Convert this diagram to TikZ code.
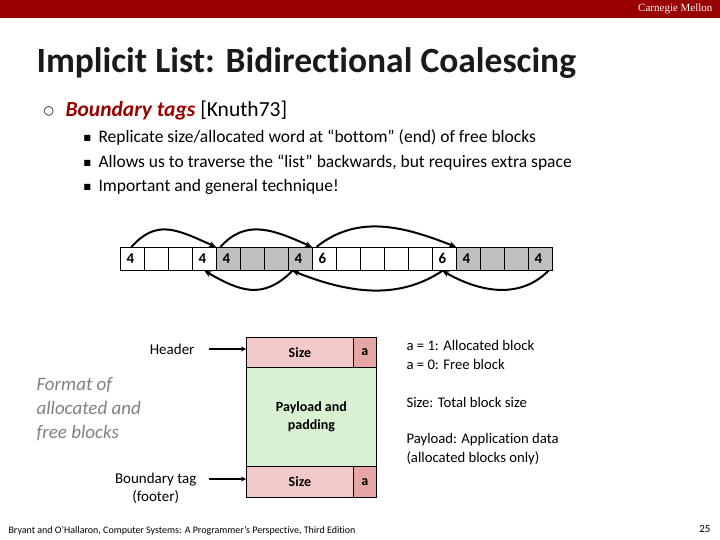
\documentclass[tikz,border=0pt]{standalone}
\usepackage{fontspec}
\setmainfont[Ligatures={NoCommon,NoRequired,NoContextual}]{Carlito}
\newfontfamily\djv{DejaVu Sans}
\newfontfamily\timesf{Liberation Serif}
\usetikzlibrary{arrows.meta}
\definecolor{cmured}{HTML}{990000}
\definecolor{pinkc}{HTML}{F2C8C8}
\definecolor{pinkd}{HTML}{E6A6A6}
\definecolor{greenc}{HTML}{D9F0D2}
\definecolor{titlec}{HTML}{1A1A1A}
\definecolor{grayc}{HTML}{C0C0C0}
\tikzset{
 cell/.style={draw=black,line width=0.8pt,minimum width=24pt,minimum height=23pt,inner sep=0pt,anchor=north west},
 arc/.style={line width=2pt,-{Stealth[length=7pt,width=6pt]}},
 lab/.style={font=\fontsize{15}{18}\selectfont,align=center},
 side/.style={font=\fontsize{14.7}{19}\selectfont,align=left,anchor=west},
 ptr/.style={line width=1.2pt,-{Stealth[length=5pt,width=5pt]}},
 fbox/.style={draw=black,line width=0.8pt,inner sep=0pt,anchor=north west}
}
\begin{document}
\begin{tikzpicture}[x=1pt,y=-1pt]
\useasboundingbox (0,0) rectangle (720,540);
\fill[cmured] (0,0) rectangle (720,18);
\node[text=white,anchor=east,font=\timesf\fontsize{11}{11}\selectfont] (cm) at (716,9) {Carnegie Mellon};
\node[anchor=west,font=\bfseries\fontsize{35.5}{35.5}\selectfont,text=titlec] (title) at (33,63) {Implicit List: Bidirectional Coalescing};
\node[anchor=west,font=\djv\fontsize{12}{12}\selectfont] (b0) at (40,111) {○};
\node[anchor=west,font=\fontsize{21.5}{21.5}\selectfont] (t0) at (62,111) {\textcolor{cmured}{\textbf{\textit{Boundary tags}}} [Knuth73]};
\foreach \yy/\tx [count=\i] in {138/{Replicate size/allocated word at “bottom” (end) of free blocks},163/{Allows us to traverse the “list” backwards, but requires extra space},187/{Important and general technique!}}{
  \node[anchor=west,font=\djv\fontsize{8}{8}\selectfont] (sb\i) at (80,\yy) {■};
  \node[anchor=west,font=\fontsize{17.5}{17.5}\selectfont] (st\i) at (95,\yy) {\tx};
}
% block row
\foreach \i/\l/\f in {0/4/white,1//white,2//white,3/4/white,4/4/grayc,5//grayc,6//grayc,7/4/grayc,8/6/white,9//white,10//white,11//white,12//white,13/6/white,14/4/grayc,15//grayc,16//grayc,17/4/grayc}{
  \pgfmathsetmacro{\xx}{120+24*\i}
  \node[cell,fill=\f] (c\i) at (\xx,247) {};
  \node[font=\bfseries\fontsize{15}{15}\selectfont,anchor=west] (l\i) at (\xx+3,258.5) {\l};
}
\draw[arc] ([xshift=-1pt]c0.north) .. controls +(25,-28) and +(-40,-18) .. (c4.north west);
\draw[arc] ([xshift=-8pt]c4.north) .. controls +(25,-28) and +(-40,-18) .. (c8.north west);
\draw[arc] ([xshift=-8pt]c8.north) .. controls +(40,-32) and +(-55,-22) .. (c14.north west);
\draw[arc] ([xshift=-8pt]c7.south) .. controls +(-30,30) and +(35,20) .. (c3.south);
\draw[arc] ([xshift=-2pt]c13.south) .. controls +(-45,30) and +(55,22) .. ([xshift=-8pt]c7.south);
\draw[arc] ([xshift=8pt]c17.south) .. controls +(-30,30) and +(35,20) .. ([xshift=-2pt]c13.south);
% block format
\node[fbox,fill=pinkc,minimum width=107pt,minimum height=30pt,font=\bfseries\fontsize{14}{14}\selectfont] (hs) at (246,337) {Size};
\node[fbox,fill=pinkd,minimum width=23pt,minimum height=30pt,font=\bfseries\fontsize{14}{14}\selectfont] (ha) at (353,337) {a};
\node[fbox,fill=greenc,minimum width=130pt,minimum height=99pt,align=center,font=\bfseries\fontsize{14}{18}\selectfont] (pl) at (246,367) {Payload and\\padding};
\node[fbox,fill=pinkc,minimum width=107pt,minimum height=31pt,font=\bfseries\fontsize{14}{14}\selectfont] (fs) at (246,466) {Size};
\node[fbox,fill=pinkd,minimum width=23pt,minimum height=31pt,font=\bfseries\fontsize{14}{14}\selectfont] (fa) at (353,466) {a};
\node[lab,anchor=east] (hdr) at (198,349) {Header};
\node[lab,anchor=east] (bt) at (200,488) {Boundary tag\\(footer)};
\coordinate (hp) at (209,349);
\coordinate (bp) at (209,479);
\draw[ptr] (hp) -- (hs.west |- hp);
\draw[ptr] (bp) -- (fs.west |- bp);
\node[anchor=west,align=left,text=gray,font=\itshape\fontsize{19}{24}\selectfont] (fmt) at (33,409) {Format of\\allocated and\\free blocks};
\node[side] (s1) at (403,355) {a = 1: Allocated block\\a = 0: Free block};
\node[side] (s2) at (403,402) {Size: Total block size};
\node[side] (s3) at (403,449) {Payload: Application data\\(allocated blocks only)};
\node[anchor=west,font=\fontsize{10}{10}\selectfont] (foot) at (5,531) {Bryant and O’Hallaron, Computer Systems: A Programmer’s Perspective, Third Edition};
\node[anchor=east,font=\fontsize{11}{11}\selectfont] (pg) at (714,529) {25};
\end{tikzpicture}
\end{document}
